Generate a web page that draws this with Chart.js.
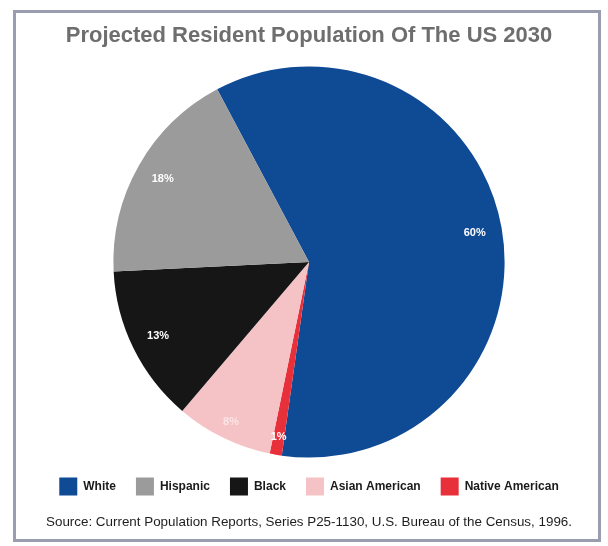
<!DOCTYPE html>
<html>
<head>
<meta charset="utf-8">
<script src="https://cdn.jsdelivr.net/npm/chart.js@4/dist/chart.umd.min.js"></script>
<style>
  html, body { margin: 0; padding: 0; background: #fff; }
  body { width: 608px; height: 546px; position: relative; overflow: hidden; }
  .frame {
    position: absolute; left: 13px; top: 10px; width: 582px; height: 526px;
    border: 3px solid #9a9db0; background: #fff;
  }
  .frame canvas { display: block; }
</style>
</head>
<body>
<div class="frame"><canvas id="popChart" width="582" height="526"></canvas></div>
<script>
// slices run clockwise from the top edge of the White wedge
var groups = ['White', 'Native American', 'Asian American', 'Black', 'Hispanic'];
var shares = [60, 1, 8, 13, 18];
var sliceColors = ['#0f4a95', '#e8303b', '#f5c3c6', '#161616', '#9b9b9b'];
var labelColors = ['#ffffff', '#ffffff', '#fbe4e6', '#ffffff', '#ffffff'];
var legendOrder = ['White', 'Hispanic', 'Black', 'Asian American', 'Native American'];

// percentage text inside each wedge
var sliceLabels = {
  id: 'sliceLabels',
  afterDatasetsDraw: function(chart) {
    var ctx = chart.ctx;
    var arcs = chart.getDatasetMeta(0).data;
    ctx.save();
    ctx.font = 'bold 11px "Liberation Sans", Arial, sans-serif';
    ctx.textAlign = 'center';
    ctx.textBaseline = 'middle';
    arcs.forEach(function(arc, i) {
      var p = arc.getProps(['x', 'y', 'startAngle', 'endAngle', 'outerRadius'], true);
      var mid = (p.startAngle + p.endAngle) / 2;
      var r = p.outerRadius * (shares[i] < 10 ? 0.91 : 0.86);
      ctx.fillStyle = labelColors[i];
      ctx.fillText(shares[i] + '%', p.x + Math.cos(mid) * r, p.y + Math.sin(mid) * r);
    });
    ctx.restore();
  }
};

new Chart(document.getElementById('popChart').getContext('2d'), {
  type: 'pie',
  data: {
    labels: groups,
    datasets: [{
      data: shares,
      backgroundColor: sliceColors,
      borderWidth: 0
    }]
  },
  options: {
    responsive: false,
    animation: false,
    rotation: -28,
    layout: { padding: { left: 4 } },
    plugins: {
      title: {
        display: true,
        text: 'Projected Resident Population Of The US 2030',
        color: '#6e6e6e',
        font: { family: '"Liberation Sans", Arial, sans-serif', size: 22, weight: 'bold', lineHeight: 1.2 },
        padding: { top: 10, bottom: 17 }
      },
      legend: {
        position: 'bottom',
        labels: {
          boxWidth: 18,
          boxHeight: 18,
          padding: 20,
          color: '#1a1a1a',
          font: { family: '"Liberation Sans", Arial, sans-serif', size: 12, weight: 'bold' },
          sort: function(a, b) {
            return legendOrder.indexOf(a.text) - legendOrder.indexOf(b.text);
          }
        }
      },
      subtitle: {
        display: true,
        position: 'bottom',
        text: 'Source: Current Population Reports, Series P25-1130, U.S. Bureau of the Census, 1996.',
        color: '#1e1e1e',
        font: { family: '"Liberation Sans", Arial, sans-serif', size: 13.4, lineHeight: 1.15 },
        padding: { top: 9, bottom: 9 }
      },
      tooltip: { enabled: false }
    }
  },
  plugins: [sliceLabels]
});
</script>
</body>
</html>
